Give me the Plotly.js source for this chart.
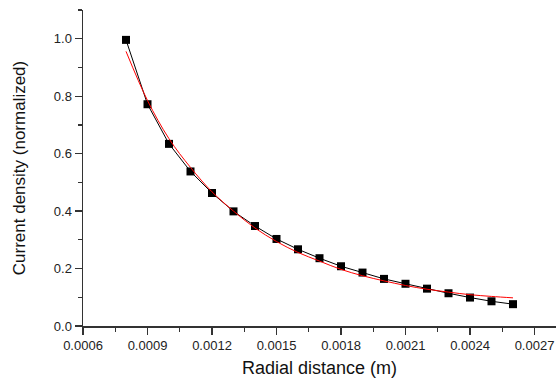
<!DOCTYPE html>
<html>
<head>
<meta charset="utf-8">
<script src="https://cdn.plot.ly/plotly-3.0.1.min.js"></script>
<style>html,body{margin:0;padding:0;background:#fff;}#chart{width:556px;height:383px;}</style>
</head>
<body>
<div id="chart"></div>
<script>
// Measured data (black squares)
const radialX = [0.0008,0.0009,0.0010,0.0011,0.0012,0.0013,0.0014,0.0015,0.0016,0.0017,0.0018,0.0019,0.0020,0.0021,0.0022,0.0023,0.0024,0.0025,0.0026];
const currentY = [0.996,0.772,0.634,0.538,0.463,0.399,0.348,0.303,0.267,0.236,0.208,0.186,0.164,0.147,0.130,0.114,0.099,0.086,0.076];
// Fitted curve (red)
const fitX = [0.0008,0.0009,0.0010,0.0011,0.0012,0.0013,0.0014,0.0015,0.0016,0.0017,0.0018,0.0019,0.0020,0.0021,0.0022,0.0023,0.0024,0.0025,0.0026];
const fitY = [0.956,0.785,0.652,0.552,0.467,0.400,0.341,0.294,0.256,0.226,0.197,0.175,0.157,0.141,0.128,0.118,0.109,0.103,0.098];
const xTickVals = [0.0006,0.0009,0.0012,0.0015,0.0018,0.0021,0.0024,0.0027];
const xTickText = ["0.0006","0.0009","0.0012","0.0015","0.0018","0.0021","0.0024","0.0027"];
const yTickVals = [0.0,0.2,0.4,0.6,0.8,1.0];
const yTickText = ["0.0","0.2","0.4","0.6","0.8","1.0"];

const font = "'Liberation Sans', Arial, sans-serif";
const traces = [
  {x: radialX, y: currentY, type: 'scatter', mode: 'lines+markers',
   line: {color: '#000', width: 1},
   marker: {symbol: 'square', size: 8, color: '#000'}},
  {x: fitX, y: fitY, type: 'scatter', mode: 'lines',
   line: {color: '#ff0000', width: 1, shape: 'spline'}}
];
const axisCommon = {
  showline: true, linecolor: '#333', linewidth: 1.5, showgrid: false, zeroline: false,
  ticks: 'outside', ticklen: 7, tickwidth: 1.3, tickcolor: '#333',
  tickfont: {family: font, size: 13, color: '#222'},
  mirror: false
};
const layout = {
  width: 556, height: 383,
  margin: {l: 83, r: 0, t: 10, b: 57},
  paper_bgcolor: '#fff', plot_bgcolor: '#fff',
  showlegend: false,
  xaxis: Object.assign({}, axisCommon, {
    range: [0.0006, 0.0028], tickmode: 'array', tickvals: xTickVals, ticktext: xTickText,
    minor: {dtick: 0.00015, tick0: 0.0006, ticks: 'outside', ticklen: 4, tickcolor: '#333', tickwidth: 1.3},
    title: {text: 'Radial distance (m)', font: {family: font, size: 18, color: '#111'}, standoff: 9}
  }),
  yaxis: Object.assign({}, axisCommon, {
    range: [0, 1.1], tickmode: 'array', tickvals: yTickVals, ticktext: yTickText,
    minor: {dtick: 0.1, tick0: 0, ticks: 'outside', ticklen: 4, tickcolor: '#333', tickwidth: 1.3},
    title: {text: 'Current density (normalized)', font: {family: font, size: 17, color: '#111'}, standoff: 24}
  })
};
Plotly.newPlot('chart', traces, layout, {displayModeBar: false, staticPlot: true});
</script>
</body>
</html>
